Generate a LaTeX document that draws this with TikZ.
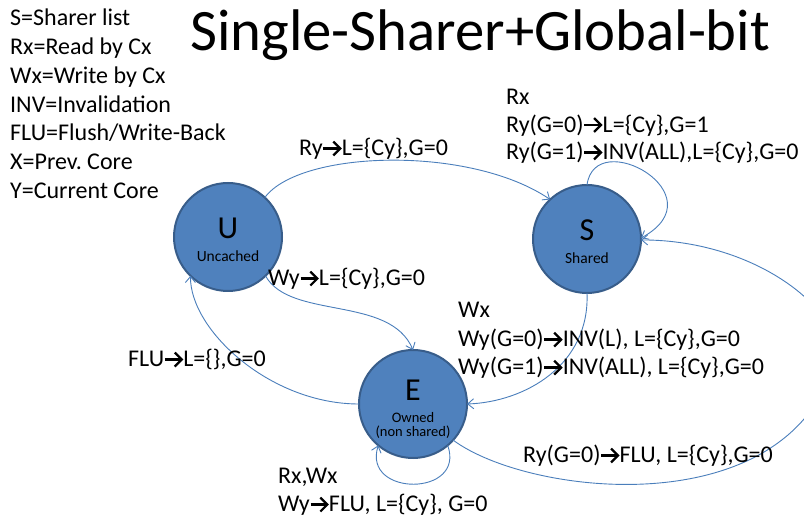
\documentclass[tikz,border=0pt]{standalone}
\usepackage{fontspec}
\setmainfont{Carlito}
\usetikzlibrary{arrows.meta}
\frenchspacing
\definecolor{stfill}{HTML}{4F81BD}
\definecolor{stline}{HTML}{385D8A}
\definecolor{edgeblue}{HTML}{4A7EBB}
% bold arrow glyph used inside the transition labels
\newcommand\thickarr{\tikz[baseline=0pt]{\useasboundingbox (0,0) rectangle (0.8em,0.62em);
  \draw[line width=0.095em] (0.03em,0.31em) -- (0.7em,0.31em);
  \draw[line width=0.095em] (0.44em,0.6em) -- (0.73em,0.31em) -- (0.44em,0.02em);}}
\begin{document}
\begin{tikzpicture}[x=1pt,y=1pt,
  state/.style={circle, draw=stline, fill=stfill, line width=2pt, minimum size=108pt, inner sep=0pt, outer sep=0pt},
  bigletter/.style={font=\fontsize{32}{38}\selectfont, inner sep=0pt, anchor=base},
  subname/.style={font=\fontsize{15.5}{18}\selectfont, inner sep=0pt, anchor=base},
  lbl/.style={font=\fontsize{24}{28}\selectfont, inner sep=0pt, anchor=base west},
  trans/.style={draw=edgeblue, line width=0.9pt, -{Straight Barb[length=6pt,width=10pt]}}]
\useasboundingbox (0,0) rectangle (804,-518);
\clip (0,0) rectangle (804,-518);

% title and legend
\node[font=\fontsize{58.7}{70}\selectfont, inner sep=0pt, anchor=base west] (title) at (190,-51) {Single-Sharer+Global-bit};
\foreach \txt [count=\i] in {S=Sharer list, Rx=Read by Cx, Wx=Write by Cx, INV=Invalidation, FLU=Flush/Write-Back, X=Prev. Core, Y=Current Core}
  \node[lbl] (leg\i) at (10,{-26-28.67*(\i-1)}) {\txt};

% states
\node[state] (U) at (228,-237) {};
\node[state] (S) at (587,-239) {};
\node[state] (E) at (413,-404) {};
\node[bigletter] (Uname) at (228,-239) {U};
\node[subname] (Udesc) at (228,-262) {Uncached};
\node[bigletter] (Sname) at (587,-241) {S};
\node[subname] (Sdesc) at (587,-264) {Shared};
\node[bigletter] (Ename) at (413,-401) {E};
\node[subname, font=\fontsize{14.5}{17}\selectfont] (Edesc1) at (413,-423) {Owned};
\node[subname, font=\fontsize{14.5}{17}\selectfont] (Edesc2) at (413,-437) {(non shared)};

% U -> S
\draw[trans] (U.47) .. controls (300,-150) and (470,-145) .. (S.133);
\node[lbl] (lUS) at (299,-156) {Ry\thickarr L=\{Cy\},G=0};

% S -> S
\draw[trans] (S.90) .. controls (595,-125) and (720,-195) .. (S.1);
\node[lbl] (lSS1) at (506,-105) {Rx};
\node[lbl] (lSS2) at (506,-132.5) {Ry(G=0)\thickarr L=\{Cy\},G=1};
\node[lbl] (lSS3) at (506,-160) {Ry(G=1)\thickarr INV(ALL),L=\{Cy\},G=0};

% S -> E
\draw[trans] (S.270) .. controls (590,-365) and (525,-402) .. (E.0);
\node[lbl] (lSE1) at (458,-318) {Wx};
\node[lbl] (lSE2) at (458,-347) {Wy(G=0)\thickarr INV(L), L=\{Cy\},G=0};
\node[lbl] (lSE3) at (458,-375) {Wy(G=1)\thickarr INV(ALL), L=\{Cy\},G=0};

% U -> E
\draw[trans] (U.-46) .. controls (290,-320) and (390,-295) .. (E.90);
\node[lbl] (lUE) at (268,-286) {Wy\thickarr L=\{Cy\},G=0};

% E -> U
\draw[trans] (E.180) .. controls (270,-404) and (190,-330) .. (U.226);
\node[lbl] (lEU) at (128,-367) {FLU\thickarr L=\{\},G=0};

% E -> E
\draw[trans] (E.-50) .. controls (466,-497) and (362,-497) .. (E.-130);
\node[lbl] (lEE1) at (278,-483.5) {Rx,Wx};
\node[lbl] (lEE2) at (278,-512) {Wy\thickarr FLU, L=\{Cy\}, G=0};

% E -> S (wide arc leaving the right edge)
\draw[trans] (E.-42) .. controls (530,-497) and (790,-525) .. (835,-360)
  .. controls (847,-315) and (760,-240) .. (S.-1);
\node[lbl] (lES) at (523,-463) {Ry(G=0)\thickarr FLU, L=\{Cy\},G=0};
\end{tikzpicture}
\end{document}
